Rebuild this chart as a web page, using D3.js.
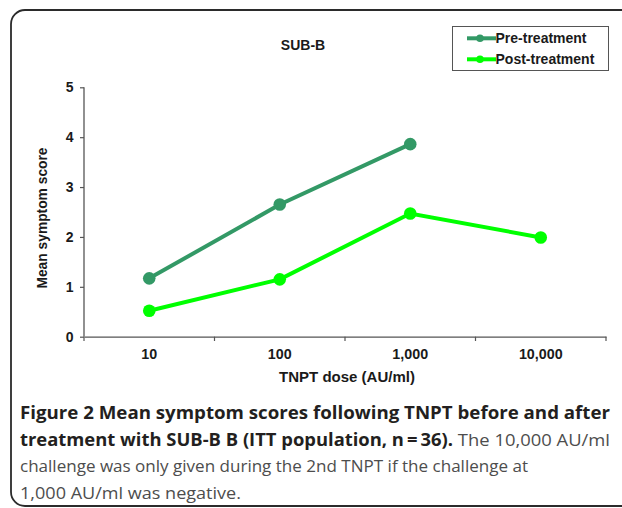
<!DOCTYPE html>
<html><head><meta charset="utf-8">
<script src="https://cdn.jsdelivr.net/npm/d3@7"></script>
<style>body{margin:0;background:#fff}svg{display:block}</style>
</head><body>
<svg id="c" width="622" height="508"></svg>
<script>
const categories = ["10", "100", "1,000", "10,000"];
const preTreatment = [1.17, 2.65, 3.86, null];
const postTreatment = [0.52, 1.15, 2.47, 1.99];
const yTicks = [0, 1, 2, 3, 4, 5];
const seriesNames = ["Pre-treatment", "Post-treatment"];
const seriesColors = ["#339966", "#00ff00"];
const title = "SUB-B";
const xTitle = "TNPT dose (AU/ml)";
const yTitle = "Mean symptom score";

const FONT = "Liberation Sans, Arial, sans-serif";
const svg = d3.select("#c");
// frame
svg.append("rect").attr("x", 11).attr("y", 10).attr("width", 640).attr("height", 496)
  .attr("rx", 14).attr("fill", "none").attr("stroke", "#2b2b2b").attr("stroke-width", 1.8);

const x = d3.scaleBand().domain(categories).range([84, 606]);
const y = d3.scaleLinear().domain([0, 5]).range([336.7, 87.3]);

const xAxis = svg.append("g").attr("transform", "translate(0,336.7)")
  .call(d3.axisBottom(x).tickSize(0).tickFormat(""));
xAxis.select(".domain").attr("stroke", "#555").attr("stroke-width", 1.3);
const bounds = [84].concat(categories.map(c => x(c) + x.bandwidth()));
svg.append("g").selectAll("line").data(bounds).join("line")
  .attr("x1", d => d).attr("x2", d => d).attr("y1", 336.7).attr("y2", 341)
  .attr("stroke", "#555").attr("stroke-width", 1.2);
svg.append("g").selectAll("text").data(categories).join("text")
  .attr("x", d => x(d) + x.bandwidth() / 2).attr("y", 359)
  .attr("text-anchor", "middle").attr("font-family", FONT)
  .attr("font-weight", "bold").attr("font-size", 14.3).attr("fill", "#1a1a1a").text(d => d);

const yAxis = svg.append("g").attr("transform", "translate(84,0)")
  .call(d3.axisLeft(y).tickValues(yTicks).tickSize(4).tickPadding(6.5).tickFormat(d3.format("d")));
yAxis.select(".domain").attr("stroke", "#555").attr("stroke-width", 1.3).attr("d", "M0,87.3V336.7");
yAxis.selectAll(".tick line").attr("stroke", "#555").attr("stroke-width", 1.2);
yAxis.selectAll(".tick text").attr("font-family", FONT)
  .attr("font-weight", "bold").attr("font-size", 14).attr("fill", "#1a1a1a");

// titles
svg.append("text").attr("x", 303).attr("y", 50).attr("text-anchor", "middle")
  .attr("font-family", FONT).attr("font-weight", "bold")
  .attr("font-size", 14).attr("fill", "#1a1a1a").text(title);
svg.append("text").attr("x", 347).attr("y", 382).attr("text-anchor", "middle")
  .attr("font-family", FONT).attr("font-weight", "bold")
  .attr("font-size", 15).attr("fill", "#1a1a1a").text(xTitle);
svg.append("text").attr("transform", "translate(47,218) rotate(-90)").attr("text-anchor", "middle")
  .attr("font-family", FONT).attr("font-weight", "bold")
  .attr("font-size", 13.8).attr("fill", "#1a1a1a").text(yTitle);

// series
const series = [preTreatment, postTreatment];
const line = d3.line().defined(d => d.v != null)
  .x(d => x(d.c) + x.bandwidth() / 2).y(d => y(d.v));
series.forEach((vals, i) => {
  const pts = categories.map((c, j) => ({c, v: vals[j]}));
  svg.append("path").datum(pts).attr("d", line).attr("fill", "none")
    .attr("stroke", seriesColors[i]).attr("stroke-width", 4);
  svg.append("g").selectAll("circle").data(pts.filter(p => p.v != null)).join("circle")
    .attr("cx", d => x(d.c) + x.bandwidth() / 2).attr("cy", d => y(d.v)).attr("r", 6.3)
    .attr("fill", seriesColors[i]);
});

// legend
const lg = svg.append("g");
lg.append("rect").attr("x", 452.5).attr("y", 26.5).attr("width", 156).attr("height", 44)
  .attr("fill", "#fff").attr("stroke", "#555").attr("stroke-width", 1);
seriesNames.forEach((n, i) => {
  const yy = 38.3 + i * 21;
  lg.append("line").attr("x1", 467).attr("x2", 496).attr("y1", yy).attr("y2", yy)
    .attr("stroke", seriesColors[i]).attr("stroke-width", 4);
  lg.append("circle").attr("cx", 480).attr("cy", yy).attr("r", 3.8).attr("fill", seriesColors[i]);
  lg.append("text").attr("x", 495.5).attr("y", yy + 4.8)
    .attr("font-family", FONT).attr("font-weight", "bold")
    .attr("font-size", 14).attr("fill", "#1a1a1a").text(n);
});

// caption
const cap = [
  [["Figure 2 Mean symptom scores following TNPT before and after", true]],
  [["treatment with SUB-B B (ITT population, n\u2009=\u200936).", true], [" The 10,000 AU/ml", false]],
  [["challenge was only given during the 2nd TNPT if the challenge at", false]],
  [["1,000 AU/ml was negative.", false]]
];
const capLens = [590, 590, 508, 221];
cap.forEach((parts, i) => {
  const t = svg.append("text").attr("x", 20).attr("y", 419 + i * 26.5)
    .attr("font-family", "Open Sans, sans-serif").attr("font-size", 17)
    .attr("textLength", capLens[i]).attr("lengthAdjust", "spacingAndGlyphs");
  parts.forEach(([s, b]) => {
    t.append("tspan").attr("font-weight", b ? "bold" : "normal")
      .attr("fill", b ? "#231f20" : "#4d4d4d").text(s);
  });
});
</script>
</body></html>
